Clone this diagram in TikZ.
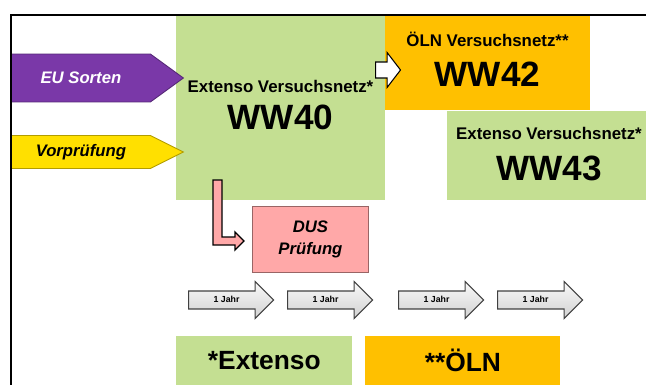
\documentclass[tikz,border=0pt]{standalone}
\usepackage{fontspec}
\setmainfont{Liberation Sans}
\usetikzlibrary{shapes.arrows}
\definecolor{extgreen}{RGB}{196,223,146}
\definecolor{olnorange}{RGB}{255,192,0}
\definecolor{eupurple}{RGB}{122,56,168}
\definecolor{vpyellow}{RGB}{255,224,0}
\definecolor{duspink}{RGB}{255,168,168}
\tikzset{
  field/.style={rectangle, inner sep=0pt, anchor=north west},
  hdr/.style={font=\fontsize{9.6}{11}\selectfont\bfseries, anchor=base, inner sep=0pt},
  big/.style={font=\fontsize{20}{22}\selectfont\bfseries, anchor=base, inner sep=0pt},
  inarrow/.style={single arrow, single arrow head extend=0pt, anchor=tail, inner sep=0pt,
    minimum height=3.44cm, line width=0.5pt, font=\fontsize{9.5}{11}\selectfont\bfseries\itshape},
  yeararrow/.style={single arrow, single arrow head extend=0.19cm, anchor=tail, inner xsep=0pt,
    inner ysep=0.09cm, text height=3.6pt, text depth=0.9pt,
    minimum height=1.7cm, minimum width=0.72cm, draw=black!75, line width=0.6pt,
    top color=gray!5, bottom color=gray!35, font=\fontsize{5}{6}\selectfont\bfseries},
}
\begin{document}
\begin{tikzpicture}[x=0.02cm, y=-0.02cm]
			\useasboundingbox (0,0) rectangle (646,385);
			
			% Versuchsnetze
			\node[field, fill=extgreen, minimum width=4.18cm, minimum height=3.7cm] (ww40) at (176,15) {};
			\node[field, fill=olnorange, minimum width=4.1cm, minimum height=1.9cm] (ww42) at (385,15) {};
			\node[field, fill=extgreen, minimum width=3.98cm, minimum height=1.78cm] (ww43) at (447,111) {};
			
			\node[hdr] (ww40hdr) at (280.5,92) {Extenso Versuchsnetz*};
			\node[big] (ww40txt) at (280.5,130) {WW40};
			\node[hdr] (ww42hdr) at (487.5,47) {ÖLN Versuchsnetz**};
			\node[big] (ww42txt) at (487.5,87) {WW42};
			\node[hdr] (ww43hdr) at (549,140) {Extenso Versuchsnetz*};
			\node[big] (ww43txt) at (549,180) {WW43};
			
			% Zugang
			\node[inarrow, fill=eupurple, draw=eupurple!70!black, minimum width=0.96cm,
				single arrow tip angle=72, text=white] (eu) at (11,78) {EU Sorten};
			\node[inarrow, fill=vpyellow, draw=vpyellow!70!black, minimum width=0.66cm,
				single arrow tip angle=53] (vp) at (11,152) {Vorprüfung};
			
			\node[single arrow, draw=black, fill=white, line width=0.6pt, inner xsep=0pt,
				inner ysep=0.15cm, minimum height=0.5cm, minimum width=0.68cm,
				single arrow head extend=0.19cm, single arrow tip angle=105, anchor=tail] (wechsel) at (375,70) {};
			
			% DUS
			\draw[fill=duspink, line width=0.8pt] (213,180) -- (222,180) -- (222,237) -- (235,237)
				-- (235,232) -- (244,241) -- (235,250) -- (235,245) -- (213,245) -- cycle;
			\node[field, fill=duspink, draw=duspink!60!black, line width=0.5pt, minimum width=2.32cm,
				minimum height=1.32cm, align=center,
				font=\fontsize{9.5}{12.5}\selectfont\bfseries\itshape] (dus) at (252,206) {DUS\\Prüfung};
			
			% Jahre
			\foreach \x/\n in {188/1, 287/2, 398/3, 497/4}
				\node[yeararrow] (jahr\n) at (\x,300) {1 Jahr};
			
			% Legende
			\node[field, fill=extgreen, minimum width=3.52cm, minimum height=0.98cm,
				font=\fontsize{15}{17}\selectfont\bfseries] (extlegende) at (176,336) {*Extenso};
			\node[field, fill=olnorange, minimum width=3.9cm, minimum height=0.98cm,
				font=\fontsize{15}{17}\selectfont\bfseries] (olnlegende) at (365,336) {**ÖLN};
			
			\draw[line width=1pt] (11,385) -- (11,15) -- (646,15);
\end{tikzpicture}
\end{document}
